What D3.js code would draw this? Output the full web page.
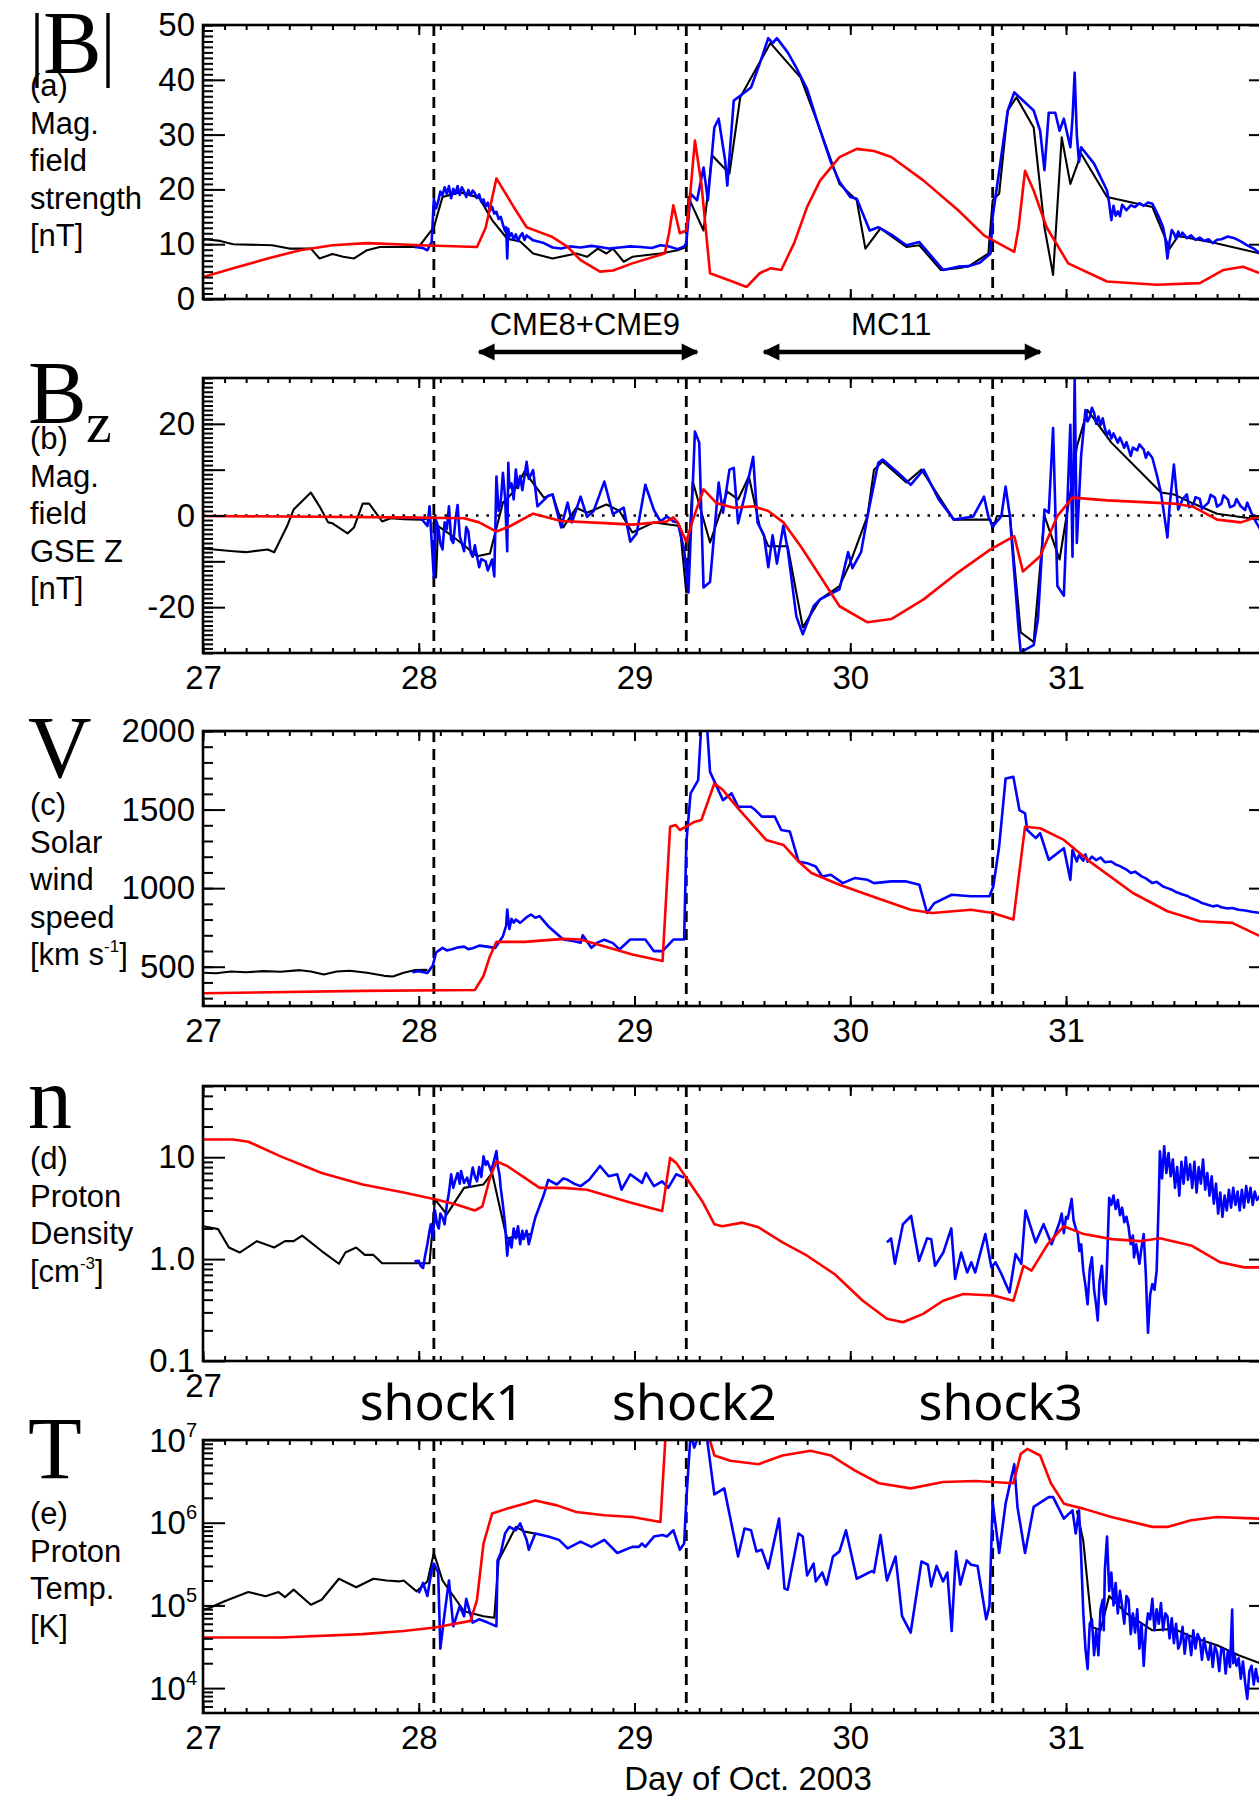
<!DOCTYPE html>
<html>
<head>
<meta charset="utf-8">
<script src="https://cdn.jsdelivr.net/npm/d3@7"></script>
<style>
  body { margin: 0; background: #fff; }
</style>
</head>
<body>
<svg id="chart"></svg>
<script>
// ---- data (day of Oct. 2003, value) ----
const dayTicks = [27, 28, 29, 30, 31];
const shockDays = [28.07, 29.24, 30.66];
const shockNames = ["shock1", "shock2", "shock3"];
const spans = [
  { name: "CME8+CME9", from: 28.28, to: 29.29, labelAt: 28.77 },
  { name: "MC11", from: 29.60, to: 30.88, labelAt: 30.19 }
];

// (a) |B| [nT]
const bmagBlack = [[27.00,10.6],[27.01,10.9],[27.08,10.6],[27.14,10.0],[27.32,9.8],[27.40,9.2],[27.50,9.2],[27.54,7.4],[27.60,8.2],[27.65,7.7],[27.70,7.4],[27.76,8.9],[27.82,9.5],[27.91,9.5],[28.00,9.5],[28.07,13.1],[28.11,18.6],[28.19,19.5],[28.28,18.5],[28.34,14.4],[28.41,11.0],[28.47,10.5],[28.53,8.3],[28.62,7.4],[28.73,8.3],[28.78,7.7],[28.83,9.2],[28.87,8.3],[28.90,9.2],[28.95,6.8],[28.99,7.7],[29.12,8.3],[29.20,8.9],[29.24,9.5],[29.25,18.6],[29.27,16.8],[29.32,12.5],[29.36,26.2],[29.44,22.9],[29.49,36.8],[29.63,46.7],[29.77,40.4],[29.85,32.0],[29.95,21.0],[30.03,18.0],[30.07,9.2],[30.14,12.9],[30.26,9.5],[30.32,9.8],[30.42,5.3],[30.50,5.6],[30.55,6.0],[30.64,8.3],[30.66,18.0],[30.69,19.2],[30.73,34.4],[30.77,36.8],[30.85,31.3],[30.90,13.1],[30.94,4.4],[30.98,29.5],[31.02,21.0],[31.07,26.5],[31.19,18.6],[31.40,16.8],[31.48,9.2],[31.52,11.5],[31.68,10.3],[31.90,8.3]];
const bmagBlue = [[27.98,9.5],[28.02,9.3],[28.04,8.9],[28.06,10.5],[28.07,18.3],[28.08,16.5],[28.09,17.8],[28.10,19.6],[28.11,18.9],[28.12,20.4],[28.13,19.2],[28.14,20.6],[28.15,18.4],[28.16,20.1],[28.17,19.2],[28.18,20.6],[28.19,19.0],[28.20,20.4],[28.21,19.6],[28.22,18.6],[28.23,19.9],[28.24,18.9],[28.25,19.8],[28.26,19.3],[28.27,18.4],[28.28,19.1],[28.29,17.7],[28.30,18.2],[28.31,16.9],[28.32,17.6],[28.33,16.1],[28.34,16.8],[28.35,15.6],[28.36,15.9],[28.37,14.6],[28.38,15.0],[28.39,13.6],[28.40,12.4],[28.405,13.1],[28.41,7.4],[28.415,12.8],[28.42,11.4],[28.43,12.0],[28.44,10.9],[28.45,11.8],[28.46,10.6],[28.47,11.5],[28.48,12.0],[28.49,10.8],[28.50,11.6],[28.53,10.7],[28.58,10.2],[28.62,9.4],[28.66,9.2],[28.70,9.6],[28.75,9.4],[28.80,9.7],[28.84,9.5],[28.88,9.2],[28.93,9.4],[28.98,9.6],[29.03,9.5],[29.08,9.3],[29.12,9.8],[29.16,9.6],[29.20,9.1],[29.23,9.6],[29.24,10.2],[29.26,19.2],[29.29,18.0],[29.32,24.0],[29.34,18.0],[29.37,31.3],[29.39,32.9],[29.42,25.3],[29.43,20.7],[29.46,36.2],[29.49,37.1],[29.54,38.6],[29.58,42.9],[29.62,47.6],[29.64,46.7],[29.66,47.6],[29.71,45.0],[29.75,42.2],[29.80,38.3],[29.85,32.0],[29.91,25.0],[29.95,21.4],[30.00,18.6],[30.03,18.3],[30.09,12.5],[30.13,13.1],[30.20,11.5],[30.26,9.8],[30.32,10.4],[30.43,5.3],[30.50,5.9],[30.55,6.0],[30.60,6.6],[30.65,8.3],[30.66,15.0],[30.73,34.4],[30.76,37.7],[30.85,34.4],[30.88,30.7],[30.90,23.5],[30.92,34.0],[30.95,34.0],[30.97,30.7],[30.99,32.9],[31.02,27.7],[31.03,33.0],[31.04,41.3],[31.05,30.0],[31.06,25.0],[31.07,27.7],[31.13,24.7],[31.19,19.8],[31.20,17.5],[31.21,14.4],[31.22,17.0],[31.23,15.2],[31.24,16.0],[31.25,15.1],[31.26,17.2],[31.28,16.2],[31.30,17.1],[31.32,16.8],[31.34,17.5],[31.36,17.0],[31.38,17.6],[31.40,17.4],[31.43,15.0],[31.45,13.1],[31.46,11.0],[31.47,7.4],[31.48,10.5],[31.49,12.6],[31.50,12.0],[31.51,11.0],[31.52,12.3],[31.53,11.4],[31.54,12.1],[31.56,11.1],[31.58,11.6],[31.60,10.8],[31.62,11.2],[31.64,10.6],[31.66,10.9],[31.68,10.2],[31.70,10.8],[31.72,10.9],[31.75,11.4],[31.78,11.1],[31.81,10.5],[31.84,9.8],[31.87,9.2],[31.90,8.3]];
const bmagRed = [[27.00,4.0],[27.14,5.6],[27.30,7.4],[27.45,8.9],[27.60,9.8],[27.76,10.2],[28.01,9.8],[28.27,9.5],[28.31,13.0],[28.36,22.0],[28.44,16.8],[28.50,13.1],[28.56,12.2],[28.62,11.3],[28.69,9.5],[28.75,7.1],[28.84,5.0],[28.90,5.2],[28.99,6.5],[29.14,8.3],[29.16,12.0],[29.18,17.1],[29.21,12.0],[29.24,12.5],[29.26,20.0],[29.28,28.9],[29.31,21.0],[29.35,4.7],[29.46,3.1],[29.52,2.2],[29.58,4.7],[29.63,5.6],[29.68,5.3],[29.74,10.2],[29.80,16.8],[29.86,21.6],[29.95,25.9],[30.03,27.4],[30.11,27.0],[30.19,25.9],[30.34,21.6],[30.50,16.2],[30.62,11.6],[30.76,8.6],[30.78,13.0],[30.81,23.4],[30.85,19.8],[30.91,13.1],[31.01,6.5],[31.19,3.2],[31.42,2.6],[31.62,2.9],[31.73,5.3],[31.82,5.9],[31.90,4.7]];

// (b) Bz GSE [nT]
const bzBlack = [[27.00,-7.2],[27.14,-7.8],[27.20,-8.0],[27.30,-7.4],[27.33,-8.0],[27.39,-2.3],[27.42,1.3],[27.50,5.0],[27.54,2.0],[27.58,-1.5],[27.60,-1.7],[27.67,-3.9],[27.70,-2.6],[27.74,2.6],[27.77,2.6],[27.83,-1.3],[27.87,-0.6],[27.93,-0.8],[28.01,-0.9],[28.07,-0.4],[28.08,-13.5],[28.09,-2.3],[28.15,-4.3],[28.21,-6.5],[28.27,-8.9],[28.33,-8.3],[28.39,2.8],[28.44,5.2],[28.49,9.6],[28.58,3.9],[28.62,4.6],[28.67,-2.6],[28.73,1.7],[28.78,0.6],[28.87,2.4],[28.93,1.0],[28.99,-3.7],[29.09,-1.5],[29.15,-1.9],[29.21,-2.3],[29.24,-16.8],[29.27,7.4],[29.35,-5.9],[29.43,5.2],[29.48,3.5],[29.53,8.5],[29.58,-2.3],[29.62,-6.7],[29.71,-6.7],[29.78,-24.4],[29.86,-18.3],[29.95,-15.4],[30.00,-10.3],[30.08,-0.1],[30.11,10.0],[30.15,11.8],[30.26,7.2],[30.33,10.0],[30.48,-0.9],[30.65,-0.9],[30.66,-3.0],[30.68,-0.1],[30.74,-0.1],[30.79,-25.5],[30.85,-27.6],[30.90,-0.1],[30.97,-9.6],[31.02,5.0],[31.05,15.0],[31.10,23.0],[31.21,15.9],[31.44,5.0],[31.50,4.6],[31.59,2.6],[31.70,0.4],[31.90,-0.9]];
const bzBlue = [[27.91,-0.4],[28.01,-0.6],[28.04,-2.3],[28.05,2.0],[28.07,-13.5],[28.08,-1.0],[28.09,-2.5],[28.10,-6.0],[28.11,-7.4],[28.12,-1.5],[28.13,-3.0],[28.14,2.0],[28.15,-5.2],[28.16,-6.0],[28.17,-1.0],[28.18,2.3],[28.19,-4.5],[28.21,-7.8],[28.22,-2.5],[28.23,-3.5],[28.24,-8.0],[28.25,-9.0],[28.26,-6.5],[28.28,-11.3],[28.29,-9.5],[28.31,-10.0],[28.32,-12.0],[28.34,-9.6],[28.35,-13.3],[28.36,8.5],[28.37,1.0],[28.38,3.0],[28.39,9.3],[28.40,4.0],[28.41,-7.8],[28.415,11.5],[28.42,6.0],[28.43,7.0],[28.44,3.5],[28.45,10.0],[28.46,6.0],[28.47,8.6],[28.48,5.5],[28.50,11.7],[28.51,8.0],[28.53,9.9],[28.55,2.0],[28.60,4.3],[28.62,4.6],[28.66,-2.6],[28.69,2.8],[28.71,-1.5],[28.75,4.1],[28.78,-0.3],[28.81,0.9],[28.86,7.4],[28.90,0.3],[28.95,1.7],[28.98,-5.7],[29.01,-3.9],[29.05,6.7],[29.09,1.2],[29.12,-1.3],[29.15,-0.2],[29.18,-1.3],[29.20,-1.5],[29.23,-7.4],[29.25,-16.8],[29.28,18.3],[29.30,15.9],[29.32,-15.7],[29.35,-14.5],[29.39,7.2],[29.41,0.6],[29.44,10.0],[29.46,10.4],[29.48,-1.7],[29.51,4.1],[29.55,12.8],[29.57,-1.5],[29.60,-4.3],[29.62,-11.3],[29.64,-4.3],[29.66,-10.5],[29.69,-2.2],[29.71,-7.4],[29.75,-22.0],[29.78,-25.9],[29.83,-19.8],[29.86,-18.3],[29.95,-16.1],[29.99,-8.0],[30.01,-11.5],[30.05,-8.0],[30.08,-0.1],[30.13,11.5],[30.15,12.2],[30.22,9.4],[30.28,6.7],[30.34,10.0],[30.41,3.5],[30.48,-0.9],[30.57,-0.2],[30.62,4.1],[30.64,-0.2],[30.66,-2.4],[30.70,-0.2],[30.72,6.3],[30.74,-0.2],[30.78,-24.8],[30.79,-29.8],[30.85,-28.3],[30.87,-22.5],[30.90,1.3],[30.92,0.6],[30.94,19.1],[30.96,-15.4],[30.99,-17.5],[31.02,19.8],[31.03,-9.0],[31.04,30.0],[31.05,-6.0],[31.07,13.0],[31.09,23.0],[31.10,20.5],[31.11,21.5],[31.12,23.5],[31.13,22.4],[31.14,20.0],[31.15,21.6],[31.16,19.7],[31.17,21.2],[31.18,19.0],[31.19,17.5],[31.20,18.5],[31.21,16.8],[31.22,17.9],[31.24,15.9],[31.25,17.0],[31.27,14.8],[31.28,16.0],[31.30,13.0],[31.31,14.8],[31.33,14.2],[31.34,15.5],[31.36,14.4],[31.37,12.6],[31.38,13.8],[31.40,12.6],[31.42,9.0],[31.44,5.0],[31.46,-1.5],[31.47,-4.8],[31.48,2.0],[31.50,11.1],[31.52,1.3],[31.54,3.5],[31.56,4.6],[31.57,1.8],[31.59,2.4],[31.60,4.0],[31.62,3.6],[31.63,1.5],[31.66,2.8],[31.67,4.5],[31.69,3.9],[31.70,1.9],[31.72,2.6],[31.73,4.4],[31.75,3.5],[31.76,1.8],[31.78,2.2],[31.79,3.6],[31.81,2.0],[31.83,1.2],[31.84,2.8],[31.86,0.5],[31.88,-1.4],[31.90,-3.0]];
const bzRed = [[27.00,-0.1],[27.91,-0.4],[28.21,-0.6],[28.28,-1.5],[28.36,-3.5],[28.42,-2.4],[28.53,0.4],[28.66,-1.2],[28.84,-1.6],[28.99,-2.0],[29.15,-1.3],[29.18,-0.4],[29.20,-1.5],[29.24,-5.7],[29.27,-1.0],[29.32,5.7],[29.38,2.7],[29.46,1.7],[29.55,2.0],[29.62,1.0],[29.69,-1.5],[29.77,-6.7],[29.86,-13.2],[29.95,-19.8],[30.08,-23.3],[30.19,-22.6],[30.34,-18.3],[30.50,-12.4],[30.65,-7.4],[30.76,-4.5],[30.80,-12.2],[30.88,-8.9],[30.96,-0.1],[31.03,3.9],[31.19,3.3],[31.50,2.6],[31.59,1.9],[31.70,-0.9],[31.81,-1.5],[31.90,-0.1]];

// (c) solar wind speed [km/s]
const vBlack = [[27.00,462],[27.06,458],[27.13,470],[27.20,465],[27.28,472],[27.36,468],[27.45,478],[27.50,470],[27.56,450],[27.62,470],[27.68,474],[27.76,462],[27.84,442],[27.88,438],[27.93,462],[27.98,478],[28.04,480]];
const vBlue = [[27.97,465],[28.00,472],[28.04,460],[28.065,507],[28.08,590],[28.11,620],[28.13,604],[28.15,610],[28.18,622],[28.21,628],[28.23,612],[28.25,618],[28.28,634],[28.30,631],[28.355,620],[28.39,694],[28.405,760],[28.41,863],[28.42,740],[28.43,805],[28.44,780],[28.45,800],[28.47,779],[28.50,815],[28.52,832],[28.54,812],[28.56,822],[28.60,758],[28.67,673],[28.72,662],[28.75,652],[28.76,700],[28.80,620],[28.83,655],[28.86,672],[28.90,650],[28.93,610],[28.98,673],[29.05,673],[29.09,599],[29.13,599],[29.18,673],[29.23,673],[29.24,1286],[29.26,1603],[29.295,1687],[29.31,2050],[29.335,2050],[29.35,1740],[29.41,1560],[29.45,1603],[29.48,1518],[29.54,1518],[29.56,1497],[29.59,1455],[29.65,1455],[29.68,1370],[29.72,1360],[29.76,1170],[29.80,1159],[29.84,1138],[29.87,1074],[29.91,1085],[29.965,1032],[30.02,1064],[30.08,1053],[30.11,1032],[30.19,1043],[30.26,1043],[30.32,1022],[30.356,842],[30.39,905],[30.47,958],[30.56,948],[30.645,948],[30.663,1011],[30.69,1265],[30.72,1698],[30.756,1708],[30.784,1497],[30.81,1476],[30.82,1370],[30.86,1318],[30.88,1350],[30.92,1180],[30.99,1254],[31.02,1053],[31.03,1243],[31.05,1170],[31.06,1210],[31.08,1175],[31.09,1215],[31.10,1168],[31.12,1200],[31.14,1178],[31.16,1195],[31.18,1165],[31.21,1170],[31.23,1150],[31.25,1140],[31.28,1118],[31.30,1096],[31.32,1105],[31.35,1075],[31.37,1062],[31.40,1032],[31.42,1040],[31.45,1010],[31.47,1000],[31.49,990],[31.51,975],[31.54,960],[31.56,952],[31.58,937],[31.61,920],[31.63,905],[31.66,893],[31.68,884],[31.70,890],[31.72,878],[31.75,870],[31.77,874],[31.80,862],[31.83,858],[31.86,850],[31.90,842]];
const vRed = [[27.00,331],[27.74,346],[28.26,352],[28.30,441],[28.33,567],[28.36,658],[28.49,658],[28.67,677],[28.75,673],[28.99,578],[29.13,536],[29.165,1391],[29.19,1402],[29.21,1370],[29.28,1423],[29.31,1434],[29.37,1666],[29.41,1624],[29.48,1508],[29.61,1307],[29.69,1275],[29.76,1170],[29.82,1096],[29.95,1022],[30.10,948],[30.28,863],[30.38,842],[30.56,863],[30.66,842],[30.756,800],[30.81,1391],[30.88,1381],[30.99,1307],[31.12,1159],[31.31,969],[31.47,853],[31.62,789],[31.77,779],[31.90,694]];

// (d) proton density [cm^-3]
const nBlack = [[27.00,2.1],[27.07,1.97],[27.12,1.3],[27.17,1.16],[27.25,1.5],[27.33,1.3],[27.38,1.5],[27.42,1.5],[27.46,1.7],[27.55,1.2],[27.63,0.9],[27.66,1.16],[27.71,1.3],[27.75,1.1],[27.79,1.1],[27.83,0.91],[28.00,0.91],[28.05,0.91],[28.075,3.86],[28.13,2.75],[28.21,5.0],[28.30,5.4],[28.34,7.0],[28.40,1.9],[28.41,1.6],[28.52,1.76]];
const nBlueEarly = [[27.98,0.95],[28.00,0.96],[28.01,0.85],[28.02,0.82],[28.03,1.1],[28.04,1.4],[28.05,1.9],[28.056,2.2],[28.065,1.6],[28.075,3.0],[28.085,2.2],[28.093,2.0],[28.10,2.8],[28.11,2.55],[28.12,2.2],[28.13,3.4],[28.14,4.5],[28.15,6.8],[28.16,5.0],[28.168,5.8],[28.18,7.0],[28.19,5.5],[28.196,7.3],[28.21,5.6],[28.224,6.3],[28.235,5.2],[28.25,7.9],[28.26,6.5],[28.27,5.8],[28.28,8.0],[28.29,6.4],[28.30,10.2],[28.31,8.4],[28.318,9.1],[28.336,7.3],[28.35,9.5],[28.36,11.5],[28.367,8.0],[28.374,6.8],[28.38,5.0],[28.39,3.4],[28.40,2.2],[28.41,1.08],[28.415,1.4],[28.42,1.6],[28.43,1.3],[28.44,2.0],[28.45,1.6],[28.46,2.1],[28.47,1.4],[28.48,1.9],[28.486,1.57],[28.50,1.9],[28.51,1.4],[28.52,1.7],[28.53,2.1],[28.54,2.55],[28.58,4.3],[28.60,6.0],[28.64,5.4],[28.67,6.2],[28.69,6.0],[28.72,5.5],[28.75,5.2],[28.79,6.0],[28.84,8.2],[28.88,6.5],[28.92,6.8],[28.94,4.8],[28.98,6.8],[29.035,5.6],[29.053,7.0],[29.09,5.2],[29.128,5.8],[29.156,5.0],[29.193,6.8],[29.23,6.3]];
const nBlueLate = [[30.17,1.46],[30.189,1.6],[30.207,0.9],[30.244,2.2],[30.282,2.65],[30.319,0.96],[30.356,1.6],[30.375,1.57],[30.393,0.86],[30.431,1.16],[30.468,2.0],[30.486,0.64],[30.514,1.16],[30.542,0.74],[30.561,0.93],[30.579,0.74],[30.626,1.76],[30.654,0.83],[30.673,0.93],[30.70,0.72],[30.738,0.47],[30.766,1.12],[30.793,0.9],[30.812,3.0],[30.859,1.46],[30.896,2.2],[30.933,1.4],[30.97,2.3],[30.98,2.8],[30.99,1.8],[31.00,2.6],[31.008,2.5],[31.018,3.2],[31.026,3.9],[31.035,2.4],[31.045,2.0],[31.054,1.8],[31.062,1.2],[31.07,1.4],[31.08,0.77],[31.09,0.55],[31.10,0.36],[31.11,0.8],[31.12,1.04],[31.13,0.5],[31.14,0.35],[31.147,0.25],[31.155,0.6],[31.166,0.86],[31.175,0.45],[31.184,0.36],[31.19,0.9],[31.20,4.0],[31.21,3.4],[31.22,4.2],[31.23,3.1],[31.24,3.8],[31.25,2.7],[31.26,3.2],[31.27,2.3],[31.28,2.6],[31.29,2.05],[31.30,1.4],[31.31,1.7],[31.315,1.04],[31.325,1.4],[31.34,0.9],[31.35,1.3],[31.36,1.76],[31.37,0.7],[31.375,0.35],[31.38,0.19],[31.39,0.45],[31.40,0.57],[31.41,0.5],[31.42,0.77],[31.43,4.0],[31.435,11.4],[31.445,6.2],[31.455,12.8],[31.465,7.0],[31.475,11.0],[31.485,6.5],[31.495,9.5],[31.505,5.0],[31.515,8.0],[31.525,4.2],[31.535,9.0],[31.545,5.5],[31.555,10.0],[31.565,6.0],[31.575,8.5],[31.585,5.0],[31.595,9.0],[31.605,4.5],[31.615,8.0],[31.625,5.5],[31.635,9.5],[31.645,4.8],[31.655,7.0],[31.665,4.2],[31.675,6.5],[31.685,3.5],[31.695,5.5],[31.705,2.8],[31.715,4.5],[31.725,2.6],[31.735,4.2],[31.745,3.0],[31.755,4.8],[31.765,3.2],[31.775,5.0],[31.785,3.4],[31.795,4.6],[31.805,3.0],[31.815,4.8],[31.825,3.2],[31.835,5.2],[31.845,3.6],[31.855,5.0],[31.865,3.4],[31.875,4.6],[31.885,3.8],[31.90,4.2]];
const nRed = [[27.00,14.9],[27.14,14.9],[27.21,14.2],[27.36,10.2],[27.55,7.0],[27.74,5.4],[27.93,4.5],[28.075,3.86],[28.17,3.45],[28.26,3.0],[28.295,3.3],[28.33,6.3],[28.36,9.1],[28.41,8.2],[28.49,6.3],[28.56,5.0],[28.67,5.0],[28.78,4.8],[28.98,3.6],[29.128,2.96],[29.165,9.85],[29.193,8.8],[29.24,6.3],[29.314,3.7],[29.37,2.2],[29.407,2.1],[29.50,2.28],[29.575,2.05],[29.686,1.46],[29.80,1.08],[29.928,0.71],[30.058,0.39],[30.17,0.26],[30.244,0.24],[30.338,0.29],[30.43,0.39],[30.524,0.455],[30.663,0.44],[30.756,0.39],[30.803,0.86],[30.84,0.77],[30.915,1.4],[30.989,2.1],[31.082,1.76],[31.212,1.57],[31.342,1.5],[31.435,1.6],[31.584,1.35],[31.715,0.93],[31.826,0.83],[31.90,0.83]];

// (e) proton temperature [K]
const tBlackEarly = [[27.00,8.9e4],[27.03,9.3e4],[27.10,1.12e5],[27.21,1.45e5],[27.29,1.29e5],[27.35,1.45e5],[27.38,1.26e5],[27.42,1.55e5],[27.50,1.02e5],[27.55,1.17e5],[27.63,2.1e5],[27.71,1.66e5],[27.79,2.1e5],[27.85,2.0e5],[27.91,1.95e5],[27.93,2.0e5],[27.99,1.48e5],[28.04,1.95e5],[28.07,4.3e5],[28.11,2.0e5],[28.21,8.5e4],[28.30,7.4e4],[28.35,7.1e4],[28.37,3.5e5],[28.45,8.9e5],[28.49,7.8e5],[28.54,7.4e5]];
const tBlackLate = [[31.05,1.4e6],[31.08,6.0e5],[31.12,5.5e4],[31.16,5.0e4],[31.20,1.3e5],[31.28,8.0e4],[31.40,5.0e4],[31.50,5.2e4],[31.60,4.0e4],[31.70,3.3e4],[31.80,2.5e4],[31.90,2.0e4]];
const tBlue = [[28.00,1.4e5],[28.02,1.87e5],[28.04,1.3e5],[28.06,2.7e5],[28.07,3.2e5],[28.09,2.5e5],[28.10,3.0e4],[28.12,8.1e4],[28.14,2.0e5],[28.16,5.6e4],[28.19,9.8e4],[28.21,7.4e4],[28.22,1.2e5],[28.25,6.2e4],[28.28,6.8e4],[28.32,6.2e4],[28.36,5.6e4],[28.365,3.5e5],[28.38,4.3e5],[28.40,7.4e5],[28.42,8.9e5],[28.45,8.1e5],[28.47,9.8e5],[28.50,6.2e5],[28.51,4.7e5],[28.54,7.4e5],[28.60,6.8e5],[28.65,6.2e5],[28.69,4.9e5],[28.75,5.9e5],[28.80,5.1e5],[28.86,6.2e5],[28.92,4.3e5],[28.99,5.1e5],[29.02,5.1e5],[29.035,5.6e5],[29.05,5.1e5],[29.09,6.8e5],[29.13,7.1e5],[29.15,6.8e5],[29.18,8.1e5],[29.21,4.7e5],[29.23,5.6e5],[29.24,1.86e6],[29.26,1.2e7],[29.277,8.1e6],[29.30,1.2e7],[29.333,1.2e7],[29.37,2.2e6],[29.416,2.6e6],[29.48,3.9e5],[29.51,8.5e5],[29.54,8.1e5],[29.565,4.5e5],[29.59,4.7e5],[29.62,2.8e5],[29.67,1.12e6],[29.695,1.6e5],[29.71,1.55e5],[29.76,7.4e5],[29.78,6.8e5],[29.80,2.3e5],[29.83,3.2e5],[29.84,1.95e5],[29.87,2.5e5],[29.89,1.78e5],[29.92,3.9e5],[29.95,4.5e5],[29.98,8.1e5],[30.03,2.1e5],[30.10,2.6e5],[30.11,2.5e5],[30.14,7.1e5],[30.17,2.0e5],[30.21,3.9e5],[30.24,7.4e4],[30.28,4.7e4],[30.33,3.4e5],[30.36,3.1e5],[30.375,1.7e5],[30.40,3.0e5],[30.43,1.95e5],[30.45,2.5e5],[30.47,4.9e4],[30.49,4.5e5],[30.51,1.78e5],[30.54,3.5e5],[30.56,3.1e5],[30.59,3.0e5],[30.63,6.8e4],[30.645,9.8e4],[30.66,1.78e6],[30.69,4.3e5],[30.72,1.7e6],[30.76,5.1e6],[30.775,1.55e6],[30.81,4.3e5],[30.85,1.55e6],[30.92,2.04e6],[30.94,2.04e6],[30.99,1.12e6],[31.03,1.41e6],[31.045,7.4e5],[31.06,1.41e6],[31.07,4.0e5],[31.08,8.1e4],[31.09,3.0e4],[31.10,1.7e4],[31.11,6.0e4],[31.12,6.8e4],[31.13,2.5e4],[31.14,5.0e4],[31.15,2.5e4],[31.16,9.0e4],[31.17,1.17e5],[31.175,5.0e4],[31.18,2.7e5],[31.19,6.8e5],[31.20,1.5e5],[31.21,2.5e5],[31.22,1.0e5],[31.23,1.86e5],[31.24,8.0e4],[31.25,1.5e5],[31.26,9.8e4],[31.27,6.0e4],[31.28,1.3e5],[31.29,1.17e5],[31.30,4.5e4],[31.31,8.0e4],[31.32,4.7e4],[31.33,9.0e4],[31.34,3.0e4],[31.35,6.0e4],[31.36,1.86e4],[31.37,5.0e4],[31.38,8.0e4],[31.39,6.8e4],[31.40,1.2e5],[31.41,5.0e4],[31.42,9.0e4],[31.43,6.0e4],[31.44,1.07e5],[31.45,5.0e4],[31.46,8.0e4],[31.47,7.4e4],[31.48,4.0e4],[31.49,7.0e4],[31.50,3.5e4],[31.51,6.0e4],[31.52,3.0e4],[31.53,3.5e4],[31.54,5.5e4],[31.55,2.6e4],[31.56,4.5e4],[31.57,4.1e4],[31.58,2.5e4],[31.59,5.0e4],[31.60,3.0e4],[31.61,4.5e4],[31.62,3.9e4],[31.63,2.2e4],[31.64,4.0e4],[31.65,2.8e4],[31.66,2.2e4],[31.67,3.5e4],[31.68,1.8e4],[31.69,3.2e4],[31.70,2.7e4],[31.71,1.6e4],[31.72,3.0e4],[31.73,2.95e4],[31.74,1.5e4],[31.75,2.8e4],[31.76,1.8e4],[31.77,8.9e4],[31.775,2.0e4],[31.78,2.6e4],[31.79,1.86e4],[31.80,2.3e4],[31.81,1.3e4],[31.82,2.1e4],[31.83,1.17e4],[31.84,7.4e3],[31.85,1.6e4],[31.86,1.86e4],[31.87,1.1e4],[31.88,1.7e4],[31.89,1.2e4],[31.90,1.4e4]];
const tRed = [[27.00,4.1e4],[27.36,4.1e4],[27.74,4.5e4],[27.93,4.9e4],[28.075,5.4e4],[28.24,6.5e4],[28.27,1.17e5],[28.30,5.6e5],[28.34,1.29e6],[28.41,1.48e6],[28.49,1.7e6],[28.54,1.86e6],[28.64,1.62e6],[28.73,1.35e6],[28.86,1.23e6],[28.99,1.17e6],[29.12,1.02e6],[29.146,1.4e7],[29.333,1.4e7],[29.37,6.5e6],[29.444,5.6e6],[29.575,5.1e6],[29.686,6.5e6],[29.816,7.4e6],[29.91,6.5e6],[30.02,4.3e6],[30.133,3.0e6],[30.28,2.6e6],[30.43,3.1e6],[30.58,3.2e6],[30.756,3.0e6],[30.79,6.8e6],[30.82,7.8e6],[30.88,6.5e6],[30.93,3.0e6],[30.99,1.7e6],[31.08,1.48e6],[31.21,1.17e6],[31.40,8.9e5],[31.47,8.9e5],[31.58,1.07e6],[31.70,1.17e6],[31.90,1.12e6]];

// ---- layout ----
const W = 1259, H = 1796;
const xLeft = 203, xRight = 1271;   // right frame falls just outside the picture
const sansFont = "'Liberation Sans', Arial, Helvetica, sans-serif";
const serifFont = "'Liberation Serif', 'Times New Roman', serif";
const svg = d3.select("#chart").attr("width", W).attr("height", H)
  .style("font-family", sansFont);
svg.append("rect").attr("width", W).attr("height", H).attr("fill", "#fff");

const x = d3.scaleLinear().domain([27, 31.95]).range([xLeft, xRight]);
const minorDays = d3.range(270, 320).map(i => i / 10);

const logMinor = (lo, hi) => {
  const out = [];
  for (let e = lo; e < hi; e++) for (let m = 2; m <= 9; m++) out.push(m * Math.pow(10, e));
  return out;
};

const panels = [
  { id: "a", top: 25, bottom: 299, y: d3.scaleLinear().domain([0, 50]),
    major: [0, 10, 20, 30, 40, 50], minor: d3.range(0, 51), labels: [0, 10, 20, 30, 40, 50],
    fmt: d => d, black: [bmagBlack], blue: [bmagBlue], red: [bmagRed], xLabels: [],
    big: "B", bars: true, bigX: 43, bigY: 72, lines: ["(a)", "Mag.", "field", "strength", "[nT]"], lineY: 96 },
  { id: "b", top: 378, bottom: 653, y: d3.scaleLinear().domain([-30, 30]),
    major: [-20, -10, 0, 10, 20], minor: d3.range(-30, 31), labels: [-20, 0, 20],
    fmt: d => d, black: [bzBlack], blue: [bzBlue], red: [bzRed], xLabels: dayTicks, zero: true,
    big: "B", sub: "z", bigX: 28, bigY: 422, lines: ["(b)", "Mag.", "field", "GSE Z", "[nT]"], lineY: 449 },
  { id: "c", top: 731, bottom: 1006, y: d3.scaleLinear().domain([250, 2000]),
    major: [500, 1000, 1500, 2000], minor: d3.range(300, 2001, 100), labels: [500, 1000, 1500, 2000],
    fmt: d => d, black: [vBlack], blue: [vBlue], red: [vRed], xLabels: dayTicks,
    big: "V", bigX: 28, bigY: 777, lines: ["(c)", "Solar", "wind", "speed", ["[km s", "-1", "]"]], lineY: 815 },
  { id: "d", top: 1086, bottom: 1361, y: d3.scaleLog().domain([0.1, 50]),
    major: [0.1, 1, 10], minor: logMinor(-1, 1).concat([20, 30, 40, 50]), labels: [0.1, 1, 10],
    fmt: d => (d === 1 ? "1.0" : String(d)), black: [nBlack], blue: [nBlueEarly, nBlueLate], red: [nRed], xLabels: [27],
    big: "n", bigX: 28, bigY: 1128, lines: ["(d)", "Proton", "Density", ["[cm", "-3", "]"]], lineY: 1169 },
  { id: "e", top: 1440, bottom: 1713, y: d3.scaleLog().domain([5e3, 1e7]),
    major: [1e4, 1e5, 1e6, 1e7], minor: [6e3, 7e3, 8e3, 9e3].concat(logMinor(4, 7)), labels: [],
    fmt: () => "", black: [tBlackEarly, tBlackLate], blue: [tBlue], red: [tRed], xLabels: dayTicks, powers: true,
    big: "T", bigX: 28, bigY: 1478, lines: ["(e)", "Proton", "Temp.", "[K]"], lineY: 1524 }
];

const tickFont = 33;

panels.forEach(p => {
  const y = p.y.range([p.bottom, p.top]);
  const g = svg.append("g").attr("class", "panel-" + p.id);

  // clip to the plot box
  g.append("clipPath").attr("id", "clip-" + p.id)
    .append("rect").attr("x", xLeft).attr("y", p.top)
    .attr("width", xRight - xLeft).attr("height", p.bottom - p.top);
  const plot = g.append("g").attr("clip-path", `url(#clip-${p.id})`);

  if (p.zero) {
    plot.append("line").attr("x1", xLeft).attr("x2", xRight)
      .attr("y1", y(0)).attr("y2", y(0))
      .attr("stroke", "#000").attr("stroke-width", 2.5).attr("stroke-dasharray", "2.5,8");
  }

  // shock times
  shockDays.forEach(s => {
    plot.append("line").attr("x1", x(s)).attr("x2", x(s))
      .attr("y1", p.top).attr("y2", p.bottom)
      .attr("stroke", "#000").attr("stroke-width", 2.8).attr("stroke-dasharray", "11,7");
  });

  const line = d3.line().x(d => x(d[0])).y(d => y(d[1]));
  const drawSet = (sets, color, width) => sets.forEach(s => {
    plot.append("path").datum(s).attr("d", line)
      .attr("fill", "none").attr("stroke", color)
      .attr("stroke-width", width).attr("stroke-linejoin", "round");
  });
  drawSet(p.black, "#000000", 2.1);
  drawSet(p.blue, "#0000ff", 2.6);
  drawSet(p.red, "#ff0000", 2.6);

  // y axes: minor + major ticks on the left, mirrored on the right
  const axStyle = sel => {
    sel.select(".domain").remove();
    sel.selectAll(".tick line").attr("stroke-width", 2);
    sel.attr("font-size", tickFont).attr("font-family", null);
  };
  g.append("g").attr("transform", `translate(${xLeft},0)`)
    .call(d3.axisLeft(y).tickValues(p.minor).tickSize(-10).tickFormat(""))
    .call(axStyle);
  g.append("g").attr("transform", `translate(${xLeft},0)`)
    .call(d3.axisLeft(y).tickValues(p.major).tickSize(-22).tickPadding(8)
      .tickFormat(d => (p.labels.includes(d) ? p.fmt(d) : "")))
    .call(axStyle);
  g.append("g").attr("transform", `translate(${xRight},0)`)
    .call(d3.axisRight(y).tickValues(p.minor).tickSize(-10).tickFormat(""))
    .call(axStyle);
  g.append("g").attr("transform", `translate(${xRight},0)`)
    .call(d3.axisRight(y).tickValues(p.major).tickSize(-22).tickFormat(""))
    .call(axStyle);

  if (p.powers) {
    p.major.forEach(v => {
      const t = g.append("text").attr("x", xLeft - 6).attr("y", y(v) + 11.5)
        .attr("text-anchor", "end").attr("font-size", tickFont);
      t.append("tspan").text("10");
      t.append("tspan").attr("font-size", 20).attr("dy", -15).text(Math.round(Math.log10(v)));
    });
  }

  // x axes: top (no labels) and bottom
  g.append("g").attr("transform", `translate(0,${p.top})`)
    .call(d3.axisTop(x).tickValues(minorDays).tickSize(-5).tickFormat(""))
    .call(axStyle);
  g.append("g").attr("transform", `translate(0,${p.top})`)
    .call(d3.axisTop(x).tickValues(dayTicks).tickSize(-10).tickFormat(""))
    .call(axStyle);
  g.append("g").attr("transform", `translate(0,${p.bottom})`)
    .call(d3.axisBottom(x).tickValues(minorDays).tickSize(-5).tickFormat(""))
    .call(axStyle);
  g.append("g").attr("transform", `translate(0,${p.bottom})`)
    .call(d3.axisBottom(x).tickValues(dayTicks).tickSize(-10).tickPadding(13)
      .tickFormat(d => (p.xLabels.includes(d) ? d : "")))
    .call(axStyle);

  // frame
  g.append("rect").attr("x", xLeft).attr("y", p.top)
    .attr("width", xRight - xLeft).attr("height", p.bottom - p.top)
    .attr("fill", "none").attr("stroke", "#000").attr("stroke-width", 2.6);

  // big symbol and description on the left
  g.append("text").attr("x", p.bigX).attr("y", p.bigY)
    .style("font-family", serifFont).attr("font-size", 88).text(p.big);
  if (p.bars) {
    // the |...| of |B|
    [37, 108].forEach(bx => {
      g.append("line").attr("x1", bx).attr("x2", bx).attr("y1", 13).attr("y2", 88)
        .attr("stroke", "#000").attr("stroke-width", 3.4);
    });
  }
  if (p.sub) {
    g.append("text").attr("x", 86).attr("y", p.bigY + 20)
      .style("font-family", serifFont).attr("font-size", 58).text(p.sub);
  }
  p.lines.forEach((ln, i) => {
    const t = g.append("text").attr("x", 30).attr("y", p.lineY + i * 37.5).attr("font-size", 31);
    if (Array.isArray(ln)) {
      t.append("tspan").text(ln[0]);
      t.append("tspan").attr("font-size", 17).attr("dy", -13).text(ln[1]);
      t.append("tspan").attr("dy", 13).text(ln[2]);
    } else {
      t.text(ln);
    }
  });
});

// interval arrows between panels (a) and (b)
const defs = svg.append("defs");
defs.append("marker").attr("id", "head").attr("viewBox", "0 0 10 10")
  .attr("refX", 9).attr("refY", 5).attr("markerWidth", 4.8).attr("markerHeight", 3.8)
  .attr("orient", "auto-start-reverse")
  .append("path").attr("d", "M0,0L10,5L0,10Z").attr("fill", "#000");

spans.forEach(s => {
  svg.append("line").attr("x1", x(s.from)).attr("x2", x(s.to)).attr("y1", 352).attr("y2", 352)
    .attr("stroke", "#000").attr("stroke-width", 4.5)
    .attr("marker-start", "url(#head)").attr("marker-end", "url(#head)");
  svg.append("text").attr("x", x(s.labelAt)).attr("y", 335)
    .attr("text-anchor", "middle").attr("font-size", 31).text(s.name);
});

// shock labels between panels (d) and (e)
shockDays.forEach((s, i) => {
  svg.append("text").attr("x", x(s) + 8).attr("y", 1420)
    .attr("text-anchor", "middle").style("font-family", "'Noto Sans', 'Open Sans', sans-serif")
    .attr("font-size", 50).text(shockNames[i]);
});

svg.append("text").attr("x", 748).attr("y", 1790).attr("text-anchor", "middle")
  .attr("font-size", 33).text("Day of Oct. 2003");
</script>
</body>
</html>
